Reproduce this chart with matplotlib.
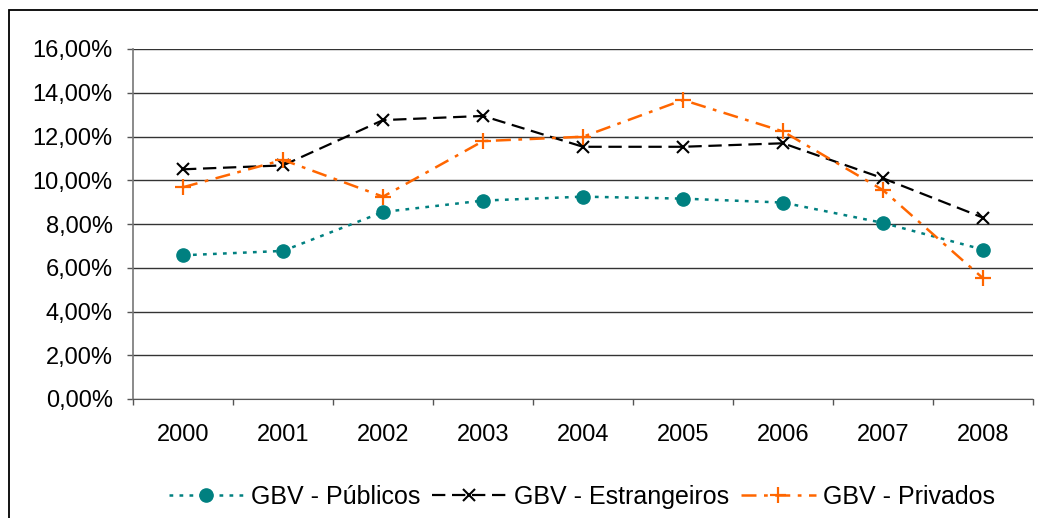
import matplotlib.pyplot as plt
import matplotlib.patches as patches
from matplotlib.ticker import FuncFormatter, FixedLocator

plt.rcParams["font.family"] = ["Liberation Sans", "DejaVu Sans"]
plt.rcParams["font.size"] = 17

# ----- data (values in %) -----
years = ["2000", "2001", "2002", "2003", "2004", "2005", "2006", "2007", "2008"]
publicos = [6.57, 6.77, 8.55, 9.07, 9.25, 9.16, 8.98, 8.05, 6.83]
estrangeiros = [10.50, 10.68, 12.75, 12.94, 11.53, 11.53, 11.69, 10.09, 8.29]
privados = [9.68, 10.93, 9.25, 11.79, 11.99, 13.67, 12.23, 9.55, 5.52]
labels = ["GBV - Públicos", "GBV - Estrangeiros", "GBV - Privados"]

Y_MAX = 16
Y_STEP = 2

fig = plt.figure(figsize=(10.38, 5.18), dpi=100)
ax = fig.add_axes([133 / 1038, 1 - 399 / 518, 900 / 1038, 350 / 518])

x = list(range(len(years)))
ax.plot(x, publicos, color="#008080", ls=(0, (1.5, 2.5)), lw=1.8,
        marker="o", ms=9.5, label=labels[0])
ax.plot(x, estrangeiros, color="black", ls=(0, (6, 3)), lw=1.6,
        marker="x", ms=9, mew=1.5, label=labels[1])
ax.plot(x, privados, color="#FF6600", ls=(0, (6, 3, 1.5, 3)), lw=1.8,
        marker="+", ms=11, mew=1.6, label=labels[2])

# y axis
ax.set_ylim(0, Y_MAX)
ax.set_yticks(range(0, Y_MAX + 1, Y_STEP))
ax.yaxis.set_major_formatter(FuncFormatter(lambda v, _: f"{v:.2f}%".replace(".", ",")))
ax.yaxis.grid(True, color="#333333", lw=1.0)
ax.tick_params(axis="y", length=4.5, width=1, color="#555555", pad=10)

# x axis: labels centred, tick marks at category boundaries
ax.set_xlim(-0.5, len(years) - 0.5)
ax.set_xticks(x)
ax.set_xticklabels(years)
ax.xaxis.set_minor_locator(FixedLocator([i - 0.5 for i in range(len(years) + 1)]))
ax.tick_params(axis="x", which="major", length=0, pad=18)
ax.tick_params(axis="x", which="minor", length=4, width=1, color="#555555")

for s in ["top", "right"]:
    ax.spines[s].set_visible(False)
ax.spines["left"].set_color("#777777")
ax.spines["bottom"].set_color("#555555")
ax.spines["left"].set_linewidth(1.2)
ax.set_axisbelow(True)

handles, labs = ax.get_legend_handles_labels()
fig.legend(handles, labs, loc="center", bbox_to_anchor=(582 / 1038, 1 - 497 / 518),
           ncol=3, frameon=False, handlelength=3.0, handletextpad=0.3,
           columnspacing=0.45, fontsize=18)

# chart frame (partially outside the canvas)
fig.add_artist(patches.Rectangle((8.5 / 1038, -0.5), 2, 0.5 + 1 - 9.5 / 518,
                                 transform=fig.transFigure, fill=False,
                                 ec="black", lw=1.3))

fig.savefig("out.png", dpi=100)
